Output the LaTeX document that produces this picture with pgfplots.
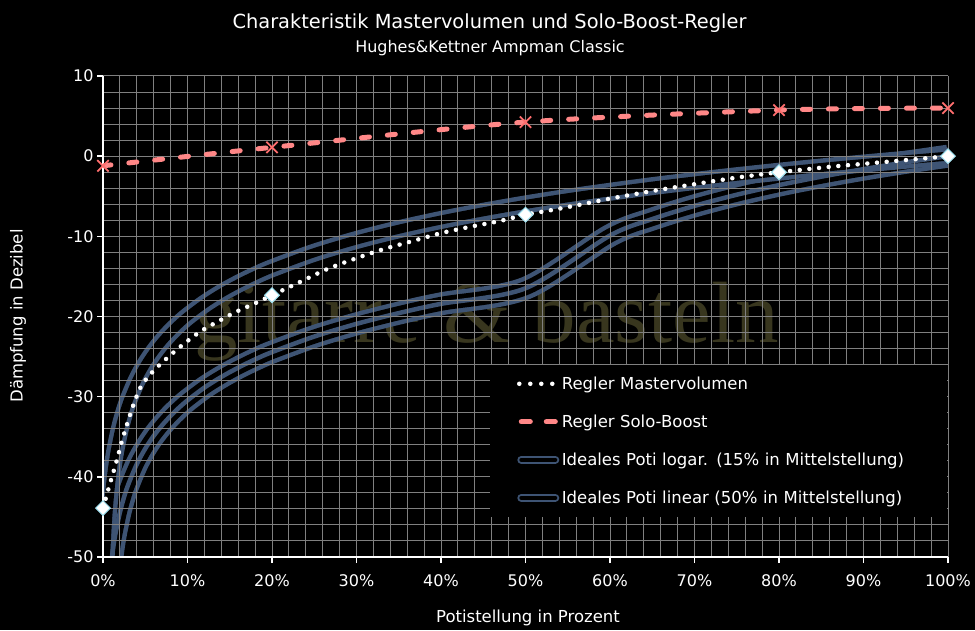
\documentclass[border=0pt]{standalone}
\usepackage{fontspec}
\setmainfont{DejaVu Sans}
\newfontfamily\wmfont{Liberation Serif}
\usepackage{xcolor}
\usepackage{pgfplots}
\pgfplotsset{compat=1.18}
\definecolor{gridc}{RGB}{128,128,128}
\definecolor{band}{RGB}{62,84,116}
\definecolor{solo}{RGB}{255,135,135}
\definecolor{solox}{RGB}{255,110,110}
\definecolor{diaedge}{RGB}{160,225,240}
\definecolor{wm}{RGB}{56,54,30}
\pagecolor{black}

\pgfplotstableread{
x y
0 -43.9
0.95 -40.4
1.62 -38.0
2.25 -35.5
2.92 -33.2
3.67 -30.8
4.62 -28.5
6.15 -26.6
7.89 -24.9
9.7 -23.3
11.63 -21.8
13.64 -20.6
15.78 -19.4
17.9 -18.4
20 -17.35
23.3 -15.7
26.5 -14.1
29.8 -12.8
33.2 -11.6
36.6 -10.6
40 -9.6
43.5 -8.8
46.9 -8.1
50 -7.3
52.7 -6.8
56 -6.15
60 -5.3
65 -4.35
71.4 -3.26
74.9 -2.69
78.5 -2.19
80 -2.0
83.2 -1.64
86.7 -1.26
90.2 -0.94
93.8 -0.6
97.3 -0.27
100 0
}\master

\pgfplotstableread{
x y
0 -43.9
20 -17.35
50 -7.3
80 -2.0
100 0
}\mastermarks

\pgfplotstableread{
x y
0 -1.2
20 1.1
50 4.25
80 5.75
100 6.0
}\solo

\pgfplotstableread{
x y
0.2 -53.98
0.3 -50.46
0.4 -47.96
0.5 -46.02
0.6 -44.44
0.8 -41.94
1 -40
1.25 -38.06
1.5 -36.48
2 -33.98
2.5 -32.04
3 -30.46
4 -27.96
5 -26.02
6 -24.44
7 -23.10
8 -21.94
9 -20.92
10 -20
12 -18.42
14 -17.08
16 -15.92
18 -14.89
20 -13.98
25 -12.04
30 -10.46
35 -9.12
40 -7.96
45 -6.94
50 -6.02
55 -5.19
60 -4.44
65 -3.74
70 -3.10
75 -2.50
80 -1.94
85 -1.41
90 -0.92
95 -0.45
100 0
}\linpot

\pgfplotstableread{
x y
0.6 -54.89
0.9 -51.37
1 -50.46
1.25 -48.52
1.5 -46.94
2 -44.44
2.5 -42.50
3 -40.92
4 -38.42
5 -36.48
6 -34.89
7 -33.56
8 -32.40
9 -31.37
10 -30.46
12 -28.87
14 -27.54
16 -26.38
18 -25.35
20 -24.44
25 -22.50
30 -20.92
35 -19.58
40 -18.42
50 -16.48
60 -9.90
65 -7.85
70 -6.20
75 -4.81
80 -3.61
85 -2.56
90 -1.62
95 -0.77
100 0
}\logpot

\begin{document}
\begin{tikzpicture}
\begin{axis}[
  set layers, clip mode=individual,
  scale only axis, width=845pt, height=481pt,
  xmin=0, xmax=100, ymin=-50, ymax=10,
  axis lines*=left,
  axis line style={white, line width=1.5pt},
  xtick={0,10,...,100},
  xticklabels={0\%,10\%,20\%,30\%,40\%,50\%,60\%,70\%,80\%,90\%,100\%},
  ytick={-50,-40,...,10},
  yticklabels={-50,-40,-30,-20,-10,0,10},
  minor x tick num=4, minor y tick num=4,
  grid=both,
  major grid style={gridc, line width=1pt},
  minor grid style={gridc, line width=1pt},
  tick align=outside, major tick length=6pt, minor tick length=0pt,
  tick style={white, line width=1.5pt},
  ticklabel style={text=white, font=\fontsize{16}{19}\selectfont},
  xticklabel style={yshift=-8pt},
  legend cell align=left,
  legend style={at={(rel axis cs:1,0)}, anchor=south east, xshift=-1pt, yshift=40pt,
    fill=black, draw=none, inner sep=0pt, row sep=0pt, column sep=0pt,
    text=white, font=\fontsize{16.5}{20}\selectfont,
    nodes={inner sep=2pt, text width=383pt, align=left}},
]
\addplot[forget plot, on layer=axis background, draw=none, no markers]
  coordinates {(45.4,-20.7)} node[text=wm, font=\wmfont\fontsize{87}{90}\selectfont] {gitarre \& basteln};

\addplot[white, line width=4.5pt, dash pattern=on 0pt off 9.7pt, line cap=round, smooth, no markers,
  legend image code/.code={\path[draw=none,fill=none] (-29pt,-19pt) rectangle (38pt,19pt);
    \draw[white, line width=4.5pt, dash pattern=on 0pt off 11pt, line cap=round] (0pt,0pt) -- (34pt,0pt);}]
  table[x=x,y=y] {\master};
\addlegendentry{Regler Mastervolumen}

\addplot[solo, line width=5pt, dash pattern=on 8pt off 18pt, line cap=round, smooth, no markers,
  legend image code/.code={\path[draw=none,fill=none] (-29pt,-19pt) rectangle (38pt,19pt);
    \draw[solo, line width=5pt, dash pattern=on 9pt off 16pt, line cap=round] (2pt,0pt) -- (38pt,0pt);}]
  table[x=x,y=y] {\solo};
\addlegendentry{Regler Solo-Boost}

\addplot[on layer=axis background, band, line width=4.5pt, double=black, double distance=14pt, line cap=butt, smooth, no markers,
  legend image code/.code={\path[draw=none,fill=none] (-29pt,-19pt) rectangle (38pt,19pt);
    \draw[band, line width=2pt, double=black, double distance=4pt, line cap=round] (2pt,0pt) -- (36pt,0pt);}]
  table[x=x,y=y] {\logpot};
\addlegendentry{Ideales Poti logar. (15\% in Mittelstellung)}

\addplot[on layer=axis background, band, line width=4.5pt, double=black, double distance=9pt, line cap=butt, smooth, no markers,
  legend image code/.code={\path[draw=none,fill=none] (-29pt,-19pt) rectangle (38pt,19pt);
    \draw[band, line width=2pt, double=black, double distance=4pt, line cap=round] (2pt,0pt) -- (36pt,0pt);}]
  table[x=x,y=y] {\linpot};
\addlegendentry{Ideales Poti linear (50\% in Mittelstellung)}

\addplot[forget plot, on layer=axis background, band, line width=4.5pt, line cap=butt, smooth, no markers]
  table[x=x,y=y] {\logpot};

\addplot[forget plot, only marks, mark=square*, mark size=5.2pt,
  mark options={rotate=45, fill=white, draw=diaedge, line width=1pt}]
  table[x=x,y=y] {\mastermarks};

\addplot[forget plot, only marks, mark=x, mark size=8pt,
  mark options={solox, line width=1.8pt}]
  table[x=x,y=y] {\solo};
\end{axis}

\node[text=white, font=\fontsize{19.4}{23}\selectfont] at (386.5pt,534pt) {Charakteristik Mastervolumen und Solo-Boost-Regler};
\node[text=white, font=\fontsize{16}{19}\selectfont] at (387pt,509pt) {Hughes\&Kettner Ampman Classic};
\node[text=white, font=\fontsize{16.5}{20}\selectfont] at (425pt,-61pt) {Potistellung in Prozent};
\node[text=white, font=\fontsize{16.5}{20}\selectfont, rotate=90] at (-85pt,241pt) {Dämpfung in Dezibel};
\pgfresetboundingbox
\path[use as bounding box] (-103pt,-73pt) rectangle (872pt,557pt);
\end{tikzpicture}
\end{document}
